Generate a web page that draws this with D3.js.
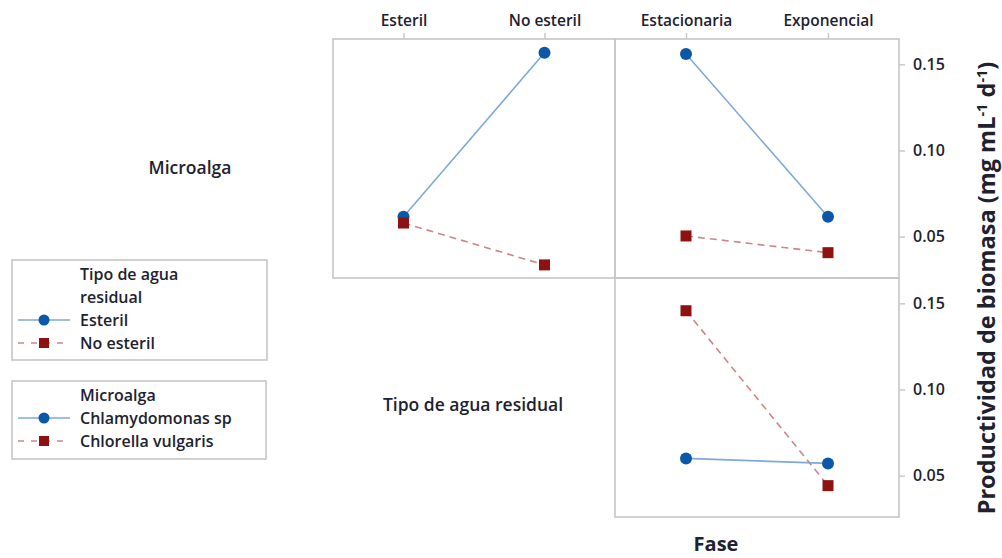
<!DOCTYPE html>
<html>
<head>
<meta charset="utf-8">
<script src="https://cdn.jsdelivr.net/npm/d3@7"></script>
<style>
  html, body { margin: 0; padding: 0; background: #fff; }
  svg { display: block; font-family: "Open Sans", "Noto Sans", sans-serif; }
  text { fill: #1e2230; }
</style>
</head>
<body>
<svg id="chart" width="1002" height="558"></svg>
<script>
// Factor levels
const microalgas = ["Chlamydomonas sp", "Chlorella vulgaris"];
const tiposAgua = ["Esteril", "No esteril"];
const fases = ["Estacionaria", "Exponencial"];

// Mean biomass productivity (mg mL-1 d-1); one row per trace level
const microalgaPorTipo = [[0.0615, 0.1567], [0.0579, 0.0336]];
const microalgaPorFase = [[0.1560, 0.0616], [0.0504, 0.0407]];
const tipoPorFase = [[0.0600, 0.0571], [0.1457, 0.0442]];

const yTicks = [0.05, 0.10, 0.15];
const yDomain = [0.026, 0.1647];

const svg = d3.select("#chart");

const colors = { blue: "#0b57a8", blueLine: "#7ea9da", red: "#8e1212", redLine: "#cf8585" };
const styles = [
  { fill: colors.blue, stroke: colors.blueLine, dash: null, shape: "circle" },
  { fill: colors.red, stroke: colors.redLine, dash: "7,5", shape: "square" }
];

// Grid of cells: columns = x factor, rows = trace factor
const colX = [50, 333, 615, 899];
const rowY = [39, 278, 517];

function drawMarker(g, shape, x, y, fill, size) {
  if (shape === "circle") {
    g.append("circle").attr("cx", x).attr("cy", y).attr("r", size / 2).attr("fill", fill);
  } else {
    g.append("rect").attr("x", x - size / 2).attr("y", y - size / 2)
      .attr("width", size).attr("height", size).attr("fill", fill);
  }
}

function drawCell(col, row, levels, series, opts) {
  const x0 = colX[col], x1 = colX[col + 1];
  const y0 = rowY[row], y1 = rowY[row + 1];
  const x = d3.scalePoint().domain(levels).range([x0, x1]).padding(0.5);
  const y = d3.scaleLinear().domain(yDomain).range([y1, y0]);
  const g = svg.append("g");

  g.append("rect").attr("x", x0).attr("y", y0).attr("width", x1 - x0).attr("height", y1 - y0)
    .attr("fill", "none").attr("stroke", "#c6c6c6").attr("stroke-width", 1.6);

  if (opts.topAxis) {
    const ax = g.append("g").attr("transform", `translate(0,${y0})`)
      .call(d3.axisTop(x).tickSize(6).tickPadding(7));
    ax.select(".domain").remove();
    ax.selectAll(".tick line").attr("stroke", "#c6c6c6").attr("stroke-width", 1.4);
    ax.selectAll(".tick text").attr("font-size", 15.5).attr("font-weight", 600)
      .attr("fill", "#1e2230").attr("font-family", "Open Sans");
  }
  if (opts.rightAxis) {
    const ay = g.append("g").attr("transform", `translate(${x1},0)`)
      .call(d3.axisRight(y).tickValues(yTicks).tickFormat(d3.format(".2f")).tickSize(6).tickPadding(8));
    ay.select(".domain").remove();
    ay.selectAll(".tick line").attr("stroke", "#c6c6c6").attr("stroke-width", 1.4);
    ay.selectAll(".tick text").attr("font-size", 16).attr("font-weight", 600)
      .attr("fill", "#1e2230").attr("font-family", "Open Sans");
  }

  const line = d3.line().x((d, i) => x(levels[i])).y(d => y(d));
  series.forEach((vals, s) => {
    const st = styles[s];
    g.append("path").attr("d", line(vals)).attr("fill", "none")
      .attr("stroke", st.stroke).attr("stroke-width", 1.6)
      .attr("stroke-dasharray", st.dash);
  });
  series.forEach((vals, s) => {
    const st = styles[s];
    vals.forEach((v, i) => drawMarker(g, st.shape, x(levels[i]), y(v), st.fill, st.shape === "circle" ? 12 : 11));
  });
}

drawCell(1, 0, tiposAgua, microalgaPorTipo, { topAxis: true });
drawCell(2, 0, fases, microalgaPorFase, { topAxis: true, rightAxis: true });
drawCell(2, 1, fases, tipoPorFase, { rightAxis: true });

// Diagonal factor labels
svg.append("text").attr("x", 190).attr("y", 174)
  .attr("text-anchor", "middle").attr("font-size", 17.5).attr("font-weight", 600).text("Microalga");
svg.append("text").attr("x", 473).attr("y", 411)
  .attr("text-anchor", "middle").attr("font-size", 17.5).attr("font-weight", 600).text("Tipo de agua residual");

// Axis titles
svg.append("text").attr("x", 716).attr("y", 551)
  .attr("text-anchor", "middle").attr("font-size", 20).attr("font-weight", 700).text("Fase");

const yt = svg.append("text")
  .attr("transform", `translate(995,288) rotate(-90)`)
  .attr("text-anchor", "middle").attr("font-size", 23.5).attr("font-weight", 700);
yt.append("tspan").text("Productividad de biomasa (mg mL");
yt.append("tspan").attr("dy", -8).attr("font-size", 14.5).text("-1");
yt.append("tspan").attr("dy", 8).text(" d");
yt.append("tspan").attr("dy", -8).attr("font-size", 14.5).text("-1");
yt.append("tspan").attr("dy", 8).text(")");

// Legends
const legends = [
  { title: ["Tipo de agua", "residual"], items: tiposAgua, box: [12, 260, 255, 100] },
  { title: ["Microalga"], items: microalgas, box: [12, 381, 254, 78] }
];
legends.forEach(lg => {
  const [bx, by, bw, bh] = lg.box;
  const g = svg.append("g");
  g.append("rect").attr("x", bx).attr("y", by).attr("width", bw).attr("height", bh)
    .attr("fill", "#fff").attr("stroke", "#c6c6c6").attr("stroke-width", 1.6);
  let ty = by + 20;
  lg.title.forEach(t => {
    g.append("text").attr("x", 80).attr("y", ty).attr("font-size", 16).attr("font-weight", 600).text(t);
    ty += 23;
  });
  lg.items.forEach((name, s) => {
    const st = styles[s];
    const cy = ty - 6;
    g.append("line").attr("x1", 18).attr("x2", 70).attr("y1", cy).attr("y2", cy)
      .attr("stroke", st.stroke).attr("stroke-width", 1.7).attr("stroke-dasharray", st.dash ? "6,7" : null);
    drawMarker(g, st.shape, 44, cy, st.fill, st.shape === "circle" ? 11 : 10);
    g.append("text").attr("x", 80).attr("y", ty).attr("font-size", 16).attr("font-weight", 600).text(name);
    ty += 23;
  });
});
</script>
</body>
</html>
